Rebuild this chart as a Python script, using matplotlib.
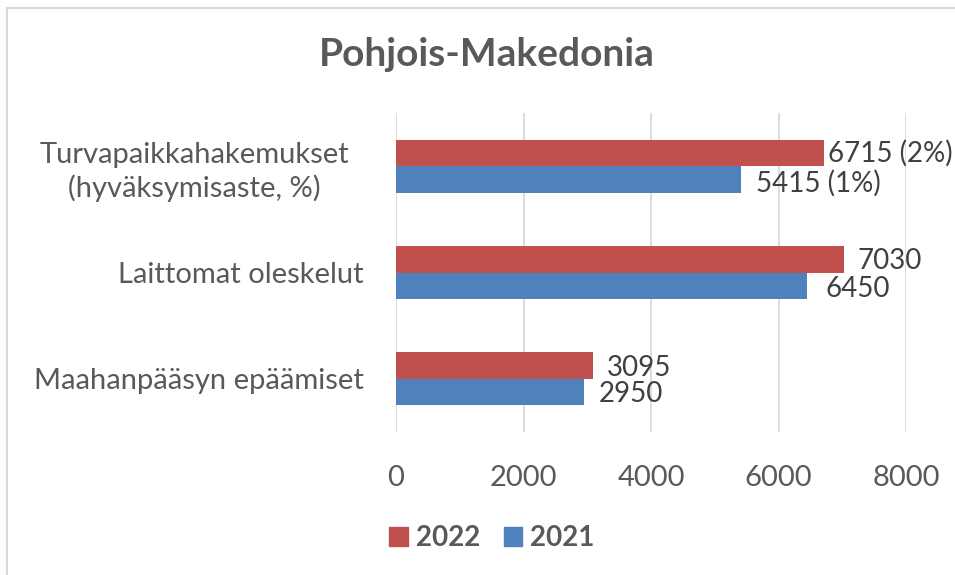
import matplotlib.pyplot as plt
from matplotlib.patches import Rectangle, Patch
from matplotlib.transforms import ScaledTranslation

# data
categories = ["Maahanpääsyn epäämiset", "Laittomat oleskelut",
              "Turvapaikkahakemukset\n(hyväksymisaste, %)"]
values_2022 = [3095, 7030, 6715]
values_2021 = [2950, 6450, 5415]
labels_2022 = ["3095", "7030", "6715 (2%)"]
labels_2021 = ["2950", "6450", "5415 (1%)"]
xticks = [0, 2000, 4000, 6000, 8000]

RED = "#C0504D"
BLUE = "#4F81BD"
GRAY = "#595959"
DARK = "#404040"
FONT = "Lato"

W, H = 955, 575
fig = plt.figure(figsize=(W / 100, H / 100), dpi=100)
ax = fig.add_axes([396 / W, 1 - 432 / H, 510 / W, 319 / H])

# kehys (vain vasen ja yläreuna näkyy)
fig.patches.append(Rectangle((7 / W, -0.1), 1.2, 1 - 8 / H + 0.1,
                             transform=fig.transFigure, fill=False,
                             edgecolor="#D9D9D9", linewidth=1.5))

h = 0.25
y = list(range(len(categories)))
ax.barh([i + h / 2 for i in y], values_2022, height=h, color=RED, zorder=3)
ax.barh([i - h / 2 for i in y], values_2021, height=h, color=BLUE, zorder=3)

# datalabels, per-label offsets in px (manual placement in original)
off_2022 = [14, 13, 4]
off_2021 = [15, 18, 15]
dy_2022 = [2, 2, 0]
dy_2021 = [2, 3, 4]
for i in y:
    ax.annotate(labels_2022[i], (values_2022[i], i + h / 2),
                xytext=(off_2022[i], -dy_2022[i]), textcoords="offset pixels",
                va="center", ha="left", fontsize=20, color=DARK,
                family=FONT, annotation_clip=False)
    ax.annotate(labels_2021[i], (values_2021[i], i - h / 2),
                xytext=(off_2021[i], -dy_2021[i]), textcoords="offset pixels",
                va="center", ha="left", fontsize=20, color=DARK,
                family=FONT, annotation_clip=False)

ax.set_xlim(0, 8000)
ax.set_ylim(-0.5, 2.5)
ax.set_xticks(xticks)
ax.set_xticklabels([str(t) for t in xticks], fontsize=21, color=GRAY, family=FONT)
ax.set_yticks(y)
ax.set_yticklabels(categories, fontsize=21, color=GRAY, family=FONT,
                   multialignment="center", linespacing=1.3)
ax.tick_params(axis="both", length=0)
ax.tick_params(axis="x", pad=24)
ax.tick_params(axis="y", pad=23)
# monirivinen otsikko on hieman vasemmalla
lbl = ax.get_yticklabels()[2]
lbl.set_transform(lbl.get_transform() + ScaledTranslation(-0.15, 0, fig.dpi_scale_trans))
ax.grid(axis="x", color="#D9D9D9", linewidth=1.3, zorder=0)
for s in ax.spines.values():
    s.set_visible(False)

fig.text(487 / W, 1 - 55 / H, "Pohjois-Makedonia", ha="center", va="center",
         fontsize=28, fontweight="bold", color=GRAY, family=FONT)

handles = [Patch(color=RED, label="2022"), Patch(color=BLUE, label="2021")]
fig.legend(handles=handles, loc="center", bbox_to_anchor=(492 / W, 1 - 538 / H),
           ncol=2, frameon=False, handlelength=0.65, handleheight=0.65,
           handletextpad=0.3, columnspacing=0.85,
           prop={"family": FONT, "size": 20, "weight": "bold"},
           labelcolor=GRAY)

fig.savefig("out.png", dpi=100)
